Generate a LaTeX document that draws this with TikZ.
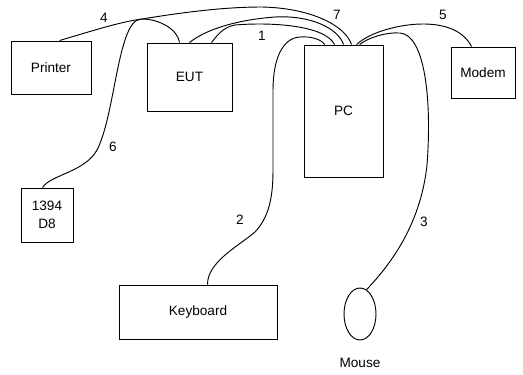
\documentclass[tikz,border=0pt]{standalone}
\usepackage{fontspec}
\setmainfont{Liberation Sans}
\usetikzlibrary{shapes.geometric,calc}
\begin{document}
\begin{tikzpicture}[x=0.75pt,y=-0.75pt,
  box/.style={draw,line width=0.7pt,inner sep=0pt,font=\fontsize{10.2}{12}\selectfont},
  cable/.style={line width=0.7pt},
  lab/.style={font=\fontsize{10.2}{12}\selectfont,inner sep=0pt}]
\useasboundingbox (0,0) rectangle (523,374);
\node[box,minimum width=60pt,minimum height=39.75pt] (printer) at (51,67.5) {Printer};
\node[box,minimum width=63.75pt,minimum height=51pt] (eut) at (189.5,77) {EUT};
\node[box,minimum width=59.25pt,minimum height=99pt] (pc) at (343.5,111) {PC};
\node[box,minimum width=48pt,minimum height=38.25pt] (modem) at (483,72.5) {Modem};
\node[box,minimum width=39pt,minimum height=40.5pt,align=center] (d8) at (47,215) {1394\\[1.5pt]D8};
\node[box,minimum width=118.5pt,minimum height=40.5pt] (kbd) at (198,312) {Keyboard};
\node[draw,line width=0.7pt,ellipse,minimum width=24pt,minimum height=39pt,inner sep=0pt] (mouse) at (360,314) {};
\node[lab] (mouselab) at (360,363) {Mouse};
% endpoints
\coordinate (pr4) at ($(printer.north west)+(49,0)$);
\coordinate (e6) at ($(eut.north west)+(33,0)$);
\coordinate (e7) at ($(eut.north west)+(43,0)$);
\coordinate (e1) at ($(eut.north west)+(65,0)$);
\coordinate (p2) at ($(pc.north west)+(21,0)$);
\coordinate (p1) at ($(pc.north west)+(31,0)$);
\coordinate (p7) at ($(pc.north west)+(40,0)$);
\coordinate (p4) at ($(pc.north west)+(48,0)$);
\coordinate (p5) at ($(pc.north west)+(53,0)$);
\coordinate (p3) at ($(pc.north west)+(56,0)$);
\coordinate (m5) at ($(modem.north west)+(21,0)$);
\coordinate (d6) at ($(d8.north west)+(22,0)$);
\coordinate (k2) at ($(kbd.north west)+(89,0)$);
% cables
\draw[cable] (pr4) .. controls (95,30) and (120,22) .. (142,19) .. controls (185,12) and (225,7) .. (262,7) .. controls (310,8) and (345,25) .. (p4);
\draw[cable] (d6) .. controls (50,175) and (85,172) .. (97,150) .. controls (110,125) and (115,70) .. (125,40) .. controls (130,25) and (135,19) .. (142,19) .. controls (160,19) and (178,30) .. (e6);
\draw[cable] (e7) .. controls (205,30) and (235,20) .. (275,17) .. controls (310,15) and (338,28) .. (p7);
\draw[cable] (e1) .. controls (218,34) and (224,27) .. (235,25) .. controls (270,22) and (325,25) .. (p1);
\draw[cable] (k2) .. controls (207,262) and (240,245) .. (255,232) .. controls (268,218) and (273,200) .. (273,170) -- (273,90) .. controls (273,60) and (282,38) .. (300,37) .. controls (312,36) and (322,40) .. (p2);
\draw[cable] (mouse.75) .. controls (385,270) and (420,230) .. (427,165) .. controls (432,100) and (425,35) .. (400,33) .. controls (385,32) and (368,38) .. (p3);
\draw[cable] (m5) .. controls (462,28) and (440,24) .. (423,24) .. controls (400,24) and (370,32) .. (p5);
% labels
\node[lab] (l4) at (104,18) {4};
\node[lab] (l1) at (262,36) {1};
\node[lab] (l7) at (337,15) {7};
\node[lab] (l5) at (443,15) {5};
\node[lab] (l6) at (113,147) {6};
\node[lab] (l2) at (240,220) {2};
\node[lab] (l3) at (424,222) {3};
\end{tikzpicture}
\end{document}
